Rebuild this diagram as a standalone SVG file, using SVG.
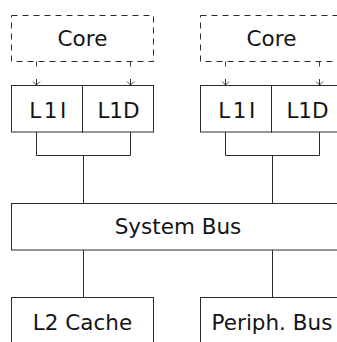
<svg xmlns="http://www.w3.org/2000/svg" width="337" height="342" viewBox="0 0 337 342">
  <style>
    .box { fill: #ffffff; stroke: #2b2b2b; stroke-width: 1; }
    .core { fill: none; stroke: #2b2b2b; stroke-width: 1; stroke-dasharray: 6 5; }
    .wire { fill: none; stroke: #2b2b2b; stroke-width: 1; }
    .req { fill: none; stroke: #2b2b2b; stroke-width: 0.9; stroke-dasharray: 5 13; }
    .head { fill: none; stroke: #2b2b2b; stroke-width: 0.9; }
    text { font-family: "DejaVu Sans", "Liberation Sans", sans-serif; font-size: 21.5px; fill: #141414; text-anchor: middle; }
    .wide { letter-spacing: 2.5px; }
  </style>
  <rect width="337" height="342" fill="#ffffff"/>

  <!-- connectors -->
  <g id="connectors">
    <!-- core to L1 request paths (dashed) -->
    <path class="req" d="M36.5 61.5 V85"/>
    <path class="req" d="M130.5 61.5 V85"/>
    <path class="req" d="M225.5 61.5 V85"/>
    <path class="req" d="M319.5 61.5 V85"/>
    <path class="head" d="M36.5 79 V85 M33 81.5 L36.5 85 L40 81.5"/>
    <path class="head" d="M130.5 79 V85 M127 81.5 L130.5 85 L134 81.5"/>
    <path class="head" d="M225.5 79 V85 M222 81.5 L225.5 85 L229 81.5"/>
    <path class="head" d="M319.5 79 V85 M316 81.5 L319.5 85 L323 81.5"/>
    <!-- L1 pair merge into the bus -->
    <path class="wire" d="M36.5 132 V155.5 H130.5 V132 M83.5 155.5 V203"/>
    <path class="wire" d="M225.5 132 V155.5 H319.5 V132 M272.5 155.5 V203"/>
    <!-- bus to L2 / peripheral bus -->
    <path class="wire" d="M83.5 250 V297.5"/>
    <path class="wire" d="M272.5 250 V297.5"/>
  </g>

  <!-- cluster 0 -->
  <g id="core0">
    <rect class="core" x="11.5" y="15.5" width="142" height="46"/>
    <text x="82.5" y="46">Core</text>
  </g>
  <g id="l1i0">
    <rect class="box" x="11.5" y="85.5" width="71" height="46.5"/>
    <text class="wide" x="49" y="118">L1I</text>
  </g>
  <g id="l1d0">
    <rect class="box" x="82.5" y="85.5" width="71" height="46.5"/>
    <text x="118.5" y="118">L1D</text>
  </g>

  <!-- cluster 1 -->
  <g id="core1">
    <rect class="core" x="200.5" y="15.5" width="142" height="46"/>
    <text x="271.5" y="46">Core</text>
  </g>
  <g id="l1i1">
    <rect class="box" x="200.5" y="85.5" width="71" height="46.5"/>
    <text class="wide" x="238" y="118">L1I</text>
  </g>
  <g id="l1d1">
    <rect class="box" x="271.5" y="85.5" width="71" height="46.5"/>
    <text x="307.5" y="118">L1D</text>
  </g>

  <!-- shared bus -->
  <g id="system-bus">
    <rect class="box" x="11.5" y="203.5" width="331" height="46.5"/>
    <text x="178" y="233.5">System Bus</text>
  </g>

  <g id="l2-cache">
    <rect class="box" x="11.5" y="297.5" width="142" height="50"/>
    <text x="82.5" y="329.5">L2 Cache</text>
  </g>
  <g id="periph-bus">
    <rect class="box" x="200.5" y="297.5" width="142" height="50"/>
    <text x="272" y="330">Periph. Bus</text>
  </g>
</svg>
